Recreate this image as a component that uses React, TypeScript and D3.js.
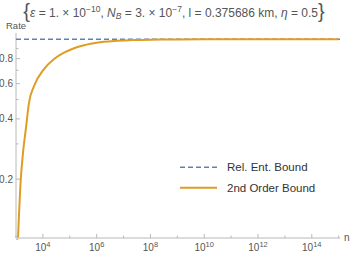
import React, { useRef, useEffect } from 'react'
import * as d3 from 'd3'

// block length n and the two bounds
const nValues = [1190, 1500, 1870, 2300, 3050, 4700, 11000, 26000, 61000, 2.6e5, 1.0e6, 4.5e6, 2e7, 1e8, 1e9, 1e10, 1e12, 1e15]
const secondOrder = [0.102, 0.198, 0.28, 0.352, 0.482, 0.584, 0.709, 0.797, 0.857, 0.926, 0.962, 0.982, 0.991, 0.996, 0.9988, 0.9996, 1.0, 1.0]
const relEntBound = 1.0

const yTicks = [0.2, 0.4, 0.6, 0.8]
const yMinor = [0.1, 0.3, 0.5, 0.7, 0.9]
const xTickExps = [4, 6, 8, 10, 12, 14]
const xMinorExps = [3, 5, 7, 9, 11, 13, 15]
const legendLabels = ['Rel. Ent. Bound', '2nd Order Bound']

const BLUE = '#5e81b5'
const ORANGE = '#e19c24'
const AXIS = '#b8b8b8'
const TEXT = '#555'
const FONT = '"Liberation Sans", Arial, sans-serif'

export default function App() {
  const ref = useRef(null)

  useEffect(() => {
    const svg = d3.select(ref.current)
    svg.selectAll('*').remove()

    const left = 16
    const right = 340
    const bottom = 238
    const top = 36

    const x = d3.scaleLog().domain([1e3, 10 ** 15.05]).range([left, right])
    const y = d3.scaleLog().domain([0.1, 1]).range([239.3, 39.3])

    svg.append('defs').append('clipPath').attr('id', 'plotclip')
      .append('rect').attr('x', left).attr('y', top - 4).attr('width', right - left).attr('height', bottom - top + 4)

    // axes
    svg.append('line').attr('x1', left).attr('x2', right).attr('y1', bottom).attr('y2', bottom)
      .attr('stroke', AXIS).attr('stroke-width', 1)
    svg.append('line').attr('x1', left).attr('x2', left).attr('y1', bottom).attr('y2', 33)
      .attr('stroke', AXIS).attr('stroke-width', 1)

    // x ticks
    xTickExps.forEach(e => {
      const px = x(10 ** e)
      svg.append('line').attr('x1', px).attr('x2', px).attr('y1', bottom).attr('y2', bottom - 4)
        .attr('stroke', AXIS)
      const t = svg.append('text').attr('x', px).attr('y', 251).attr('text-anchor', 'middle')
        .attr('font-family', FONT).attr('font-size', 10).attr('fill', TEXT)
      t.append('tspan').text('10')
      t.append('tspan').attr('font-size', 7.5).attr('dy', -4).text(e)
    })
    xMinorExps.forEach(e => {
      const px = x(10 ** e)
      svg.append('line').attr('x1', px).attr('x2', px).attr('y1', bottom).attr('y2', bottom - 2.5)
        .attr('stroke', AXIS)
    })
    svg.append('text').attr('x', 344).attr('y', 241).attr('font-family', FONT).attr('font-size', 10)
      .attr('fill', TEXT).text('n')

    // y ticks
    yTicks.forEach(v => {
      const py = y(v)
      svg.append('line').attr('x1', left).attr('x2', left + 4).attr('y1', py).attr('y2', py).attr('stroke', AXIS)
      svg.append('text').attr('x', 13).attr('y', py + 3.5).attr('text-anchor', 'end')
        .attr('font-family', FONT).attr('font-size', 10).attr('fill', TEXT).text(v)
    })
    yMinor.forEach(v => {
      const py = y(v)
      svg.append('line').attr('x1', left).attr('x2', left + 2.5).attr('y1', py).attr('y2', py).attr('stroke', AXIS)
    })
    svg.append('text').attr('x', 6).attr('y', 29).attr('font-family', FONT).attr('font-size', 9.5)
      .attr('fill', TEXT).text('Rate')

    const plot = svg.append('g').attr('clip-path', 'url(#plotclip)')

    // relative entropy bound
    plot.append('line').attr('x1', left).attr('x2', right)
      .attr('y1', y(relEntBound)).attr('y2', y(relEntBound))
      .attr('stroke', BLUE).attr('stroke-width', 1.5).attr('stroke-dasharray', '5,3')

    const line = d3.line<number>()
      .x((d, i) => x(nValues[i]))
      .y(d => y(d))
      .curve(d3.curveMonotoneX)
    plot.append('path').attr('d', line(secondOrder)).attr('fill', 'none')
      .attr('stroke', ORANGE).attr('stroke-width', 2)

    // legend
    const lg = svg.append('g')
    legendLabels.forEach((lab, i) => {
      const ly = 167.3 + i * 20.4
      lg.append('line').attr('x1', 180).attr('x2', 217).attr('y1', ly).attr('y2', ly)
        .attr('stroke', i === 0 ? BLUE : ORANGE).attr('stroke-width', i === 0 ? 1.5 : 2)
        .attr('stroke-dasharray', i === 0 ? '5,3' : null)
      lg.append('text').attr('x', 227).attr('y', ly + 4).attr('font-family', FONT).attr('font-size', 11.5)
        .attr('fill', '#333').text(lab)
    })

    // title
    const title = svg.append('text').attr('x', 174).attr('y', 16.5).attr('text-anchor', 'middle')
      .attr('font-family', FONT).attr('font-size', 12).attr('fill', TEXT)
    title.append('tspan').attr('font-size', 20).attr('font-weight', 300).attr('dy', 1.5).text('{')
    title.append('tspan').attr('dy', -1.5).attr('font-style', 'italic').text('ε')
    title.append('tspan').text(' = 1. × 10')
    title.append('tspan').attr('font-size', 8.5).attr('dy', -5).text('−10')
    title.append('tspan').attr('dy', 5).text(', ')
    title.append('tspan').attr('font-style', 'italic').text('N')
    title.append('tspan').attr('font-size', 8.5).attr('font-style', 'italic').attr('dy', 2.5).text('B')
    title.append('tspan').attr('dy', -2.5).text(' = 3. × 10')
    title.append('tspan').attr('font-size', 8.5).attr('dy', -5).text('−7')
    title.append('tspan').attr('dy', 5).text(', l = 0.375686 km, ')
    title.append('tspan').attr('font-style', 'italic').text('η')
    title.append('tspan').text(' = 0.5')
    title.append('tspan').attr('font-size', 20).attr('font-weight', 300).attr('dy', 1.5).text('}')
  }, [])

  return (
    <svg
      ref={ref}
      width={353}
      height={255}
      style={{ position: 'absolute', left: 0, top: 0, background: '#fff' }}
    ></svg>
  )
}
